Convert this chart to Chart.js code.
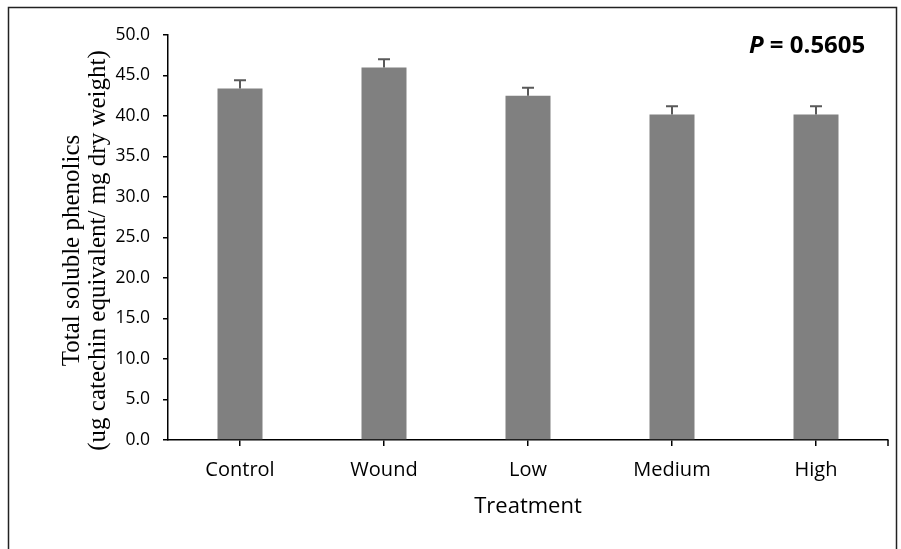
<!DOCTYPE html>
<html>
<head>
<meta charset="utf-8">
<script src="https://cdn.jsdelivr.net/npm/chart.js@4"></script>
<style>
  html, body { margin: 0; padding: 0; background: #fff; }
  #wrap { width: 901px; height: 549px; position: relative; }
</style>
</head>
<body>
<div id="wrap"><canvas id="c" width="901" height="549"></canvas></div>
<script>
// Total soluble phenolics by treatment (mean + SE)
const categories = ['Control', 'Wound', 'Low', 'Medium', 'High'];
const phenolics = [43.4, 46.0, 42.5, 40.2, 40.2];
const stdErrors = [1.0, 1.0, 1.0, 1.0, 1.0];
const yTicks = [0, 5, 10, 15, 20, 25, 30, 35, 40, 45, 50];
const yTitleLines = ['Total soluble phenolics', '(ug catechin equivalent/ mg dry weight)'];
const xTitle = 'Treatment';
const pLabel = ['P', ' = 0.5605'];

const sans = '"Open Sans", sans-serif';

// One-sided (upper) error bars drawn from the data arrays via the y scale
const errorBars = {
  id: 'errorBars',
  afterDatasetsDraw(chart) {
    const { ctx } = chart;
    const y = chart.scales.y;
    const meta = chart.getDatasetMeta(0);
    ctx.save();
    ctx.strokeStyle = '#595959';
    ctx.lineWidth = 2;
    meta.data.forEach((bar, i) => {
      const top = y.getPixelForValue(phenolics[i] + stdErrors[i]);
      const base = y.getPixelForValue(phenolics[i]);
      ctx.beginPath();
      ctx.moveTo(bar.x, base);
      ctx.lineTo(bar.x, top);
      ctx.moveTo(bar.x - 6, top);
      ctx.lineTo(bar.x + 6, top);
      ctx.stroke();
    });
    ctx.restore();
  }
};

// Frame, closing tick on the x axis, two-line y title and the P-value note
const decorations = {
  id: 'decorations',
  beforeDraw(chart) {
    const { ctx } = chart;
    ctx.save();
    ctx.fillStyle = '#fff';
    ctx.fillRect(0, 0, chart.width, chart.height);
    ctx.strokeStyle = '#222';
    ctx.lineWidth = 1.5;
    ctx.strokeRect(8.5, 7.5, 888, 560);
    ctx.restore();
  },
  afterDraw(chart) {
    const { ctx, chartArea } = chart;
    ctx.save();
    ctx.strokeStyle = '#000';
    ctx.lineWidth = 1.5;
    ctx.beginPath();
    ctx.moveTo(chartArea.right, chartArea.bottom);
    ctx.lineTo(chartArea.right, chartArea.bottom + 6);
    ctx.stroke();

    // y-axis title, rotated, two centred lines
    const cy = (chartArea.top + chartArea.bottom) / 2 + 13;
    ctx.fillStyle = '#000';
    ctx.font = '25px "Liberation Serif", "Times New Roman", serif';
    ctx.textAlign = 'center';
    ctx.textBaseline = 'middle';
    [72, 98].forEach((x, i) => {
      ctx.save();
      ctx.translate(x, cy);
      ctx.rotate(-Math.PI / 2);
      ctx.fillText(yTitleLines[i], 0, 0);
      ctx.restore();
    });

    // P-value note
    ctx.textAlign = 'left';
    const x0 = chartArea.right - 139;
    const yMid = chartArea.top + 11;
    ctx.font = 'italic bold 24px ' + sans;
    ctx.fillText(pLabel[0], x0, yMid);
    const w = ctx.measureText(pLabel[0]).width;
    ctx.font = 'bold 24px ' + sans;
    ctx.fillText(pLabel[1], x0 + w, yMid);
    ctx.restore();
  }
};

new Chart(document.getElementById('c'), {
  type: 'bar',
  data: {
    labels: categories,
    datasets: [{
      data: phenolics,
      backgroundColor: '#808080',
      borderWidth: 0,
      categoryPercentage: 1.0,
      barPercentage: 0.3125
    }]
  },
  options: {
    responsive: false,
    animation: false,
    devicePixelRatio: 1,
    layout: { padding: { top: 35, right: 13, bottom: 0, left: 0 } },
    plugins: { legend: { display: false }, tooltip: { enabled: false } },
    scales: {
      x: {
        offset: true,
        afterFit(scale) { scale.height = 109; },
        grid: { display: true, drawOnChartArea: false, offset: false, tickLength: 6, color: '#000', lineWidth: 1.5 },
        border: { color: '#000', width: 1.5 },
        ticks: { font: { family: sans, size: 20 }, color: '#000', padding: 12, maxRotation: 0 },
        title: {
          display: true, text: xTitle, color: '#000',
          font: { family: sans, size: 22 },
          padding: { top: 0, bottom: 29 }
        }
      },
      y: {
        min: 0, max: 50,
        afterFit(scale) { scale.width = 168; },
        afterBuildTicks(scale) { scale.ticks = yTicks.map(v => ({ value: v })); },
        grid: { display: true, drawOnChartArea: false, tickLength: 5, color: '#000', lineWidth: 1.5 },
        border: { color: '#000', width: 1.5 },
        ticks: { font: { family: sans, size: 17.5 }, color: '#000', padding: 13, callback: v => Number(v).toFixed(1) }
      }
    }
  },
  plugins: [errorBars, decorations]
});
</script>
</body>
</html>
